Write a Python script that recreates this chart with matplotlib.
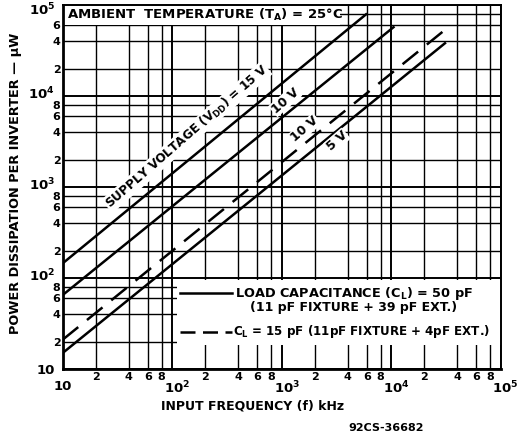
import numpy as np
import matplotlib
matplotlib.use('Agg')
import matplotlib.pyplot as plt
from matplotlib.patches import Rectangle
from matplotlib.ticker import FixedLocator, FixedFormatter
from matplotlib.transforms import ScaledTranslation

plt.rcParams['font.family'] = ['DejaVu Sans']
plt.rcParams['font.weight'] = 'bold'
plt.rcParams['axes.labelweight'] = 'bold'
plt.rcParams['mathtext.default'] = 'bf'

# line end points (f in kHz, P in uW)
freq_15v = [10, 5900]
power_15v = [145, 79000]
freq_10v = [10, 10500]
power_10v = [65, 57000]
freq_10v_15pf = [10, 32000]
power_10v_15pf = [21, 55000]
freq_5v = [10, 31000]
power_5v = [15, 38000]

decades = [10, 100, 1000, 10000, 100000]
x_major_labels = ['10', '$10^2$', '$10^3$', '$10^4$', '$10^5$']
y_major_labels = ['10', '$10^2$', '$10^3$', '$10^4$', '$10^5$']
minor_digits = [2, 4, 6, 8]

fig = plt.figure(figsize=(5.19, 4.37), dpi=100)
ax = fig.add_axes([0.1208, 0.1556, 0.8439, 0.8330])
ax.set_xscale('log')
ax.set_yscale('log')
ax.set_xlim(10, 1e5)
ax.set_ylim(10, 1e5)

minor_pos = [d * m for d in decades[:-1] for m in minor_digits]
x_minor_labels = [str(m) for d in decades[:-1] for m in minor_digits]
y_minor_labels = [str(m) if not (d == 10000 and m == 8) else '' for d in decades[:-1] for m in minor_digits]

ax.xaxis.set_major_locator(FixedLocator(decades))
ax.xaxis.set_major_formatter(FixedFormatter(x_major_labels))
ax.xaxis.set_minor_locator(FixedLocator(minor_pos))
ax.xaxis.set_minor_formatter(FixedFormatter(x_minor_labels))
ax.yaxis.set_major_locator(FixedLocator(decades))
ax.yaxis.set_major_formatter(FixedFormatter(y_major_labels))
ax.yaxis.set_minor_locator(FixedLocator(minor_pos))
ax.yaxis.set_minor_formatter(FixedFormatter(y_minor_labels))

ax.tick_params(which='both', length=0, colors='black')
ax.tick_params(axis='x', which='major', pad=8, labelsize=9.5)
ax.tick_params(axis='x', which='minor', pad=2, labelsize=8)
ax.tick_params(axis='y', which='major', pad=5.5, labelsize=9.5)
ax.tick_params(axis='y', which='minor', pad=1.5, labelsize=8)

# decade labels on x: keep the "10" over the grid line, exponent to its right
shift = ScaledTranslation(5 / 100, 0, fig.dpi_scale_trans)
for tick in ax.xaxis.get_major_ticks()[1:]:
    tick.label1.set_transform(tick.label1.get_transform() + shift)
# decade labels on y: lift them clear of the "8" below, drop the top one inside
y_ticks = ax.yaxis.get_major_ticks()
for tick in y_ticks[1:4]:
    tick.label1.set_transform(tick.label1.get_transform() + ScaledTranslation(0, 3 / 100, fig.dpi_scale_trans))
y_ticks[4].label1.set_transform(y_ticks[4].label1.get_transform() + ScaledTranslation(0, -4 / 100, fig.dpi_scale_trans))

ax.grid(which='major', color='black', lw=1.4)
ax.grid(which='minor', color='black', lw=1.0)
ax.set_axisbelow(True)

for side in ['left', 'bottom']:
    ax.spines[side].set_linewidth(2.0)
for side in ['top', 'right']:
    ax.spines[side].set_linewidth(1.4)

# white panels under the heading and the key
ax.add_patch(Rectangle((0, 0.945), 0.633, 0.055, transform=ax.transAxes,
                       facecolor='white', edgecolor='none', zorder=1.5))
ax.add_patch(Rectangle((0.261, 0.066), 0.739, 0.178, transform=ax.transAxes,
                       facecolor='white', edgecolor='none', zorder=1.5))

ax.plot(freq_15v, power_15v, color='black', lw=1.8, zorder=3)
ax.plot(freq_10v, power_10v, color='black', lw=1.8, zorder=3)
ax.plot(freq_10v_15pf, power_10v_15pf, color='black', lw=1.8, ls=(0, (8, 4.5)), zorder=3)
ax.plot(freq_5v, power_5v, color='black', lw=1.8, zorder=3)

ax.text(0.01, 0.972, 'AMBIENT  TEMPERATURE (T$_A$) = 25°C', transform=ax.transAxes,
        fontsize=9.5, va='center', ha='left', zorder=4)

box = dict(facecolor='white', edgecolor='none', pad=0.5)
ax.text(136, 3540, 'SUPPLY VOLTAGE (V$_{DD}$) = 15 V', rotation=41, fontsize=8.7,
        ha='center', va='center', rotation_mode='anchor', bbox=box, zorder=4)
ax.text(1075, 8810, '10 V', rotation=41, fontsize=9, ha='center', va='center',
        rotation_mode='anchor', bbox=box, zorder=4)
ax.text(1633, 4340, '10 V', rotation=41, fontsize=9, ha='center', va='center',
        rotation_mode='anchor', bbox=box, zorder=4)
ax.text(3200, 3200, '5 V', rotation=41, fontsize=9, ha='center', va='center',
        rotation_mode='anchor', bbox=box, zorder=4)

# key
ax.plot([0.268, 0.387], [0.208, 0.208], transform=ax.transAxes, color='black', lw=1.8, zorder=4)
ax.text(0.394, 0.208, 'LOAD CAPACITANCE (C$_L$) = 50 pF', transform=ax.transAxes,
        fontsize=9.3, va='center', ha='left', zorder=4)
ax.text(0.428, 0.168, '(11 pF FIXTURE + 39 pF EXT.)', transform=ax.transAxes,
        fontsize=9, va='center', ha='left', zorder=4)
ax.plot([0.268, 0.387], [0.102, 0.102], transform=ax.transAxes, color='black', lw=1.8,
        ls=(0, (6, 3)), zorder=4)
ax.text(0.389, 0.102, 'C$_L$ = 15 pF (11pF FIXTURE + 4pF EXT.)', transform=ax.transAxes,
        fontsize=8.6, va='center', ha='left', zorder=4)

ax.set_xlabel('INPUT FREQUENCY (f) kHz', fontsize=9)
ax.xaxis.set_label_coords(0.434, -0.085)
ax.set_ylabel('POWER DISSIPATION PER INVERTER — µW', fontsize=9.3)
ax.yaxis.set_label_coords(-0.093, 0.51)

fig.text(386 / 519, 1 - 428 / 437, '92CS-36682', fontsize=8, ha='center', va='center')

fig.savefig('out.png', dpi=100)
